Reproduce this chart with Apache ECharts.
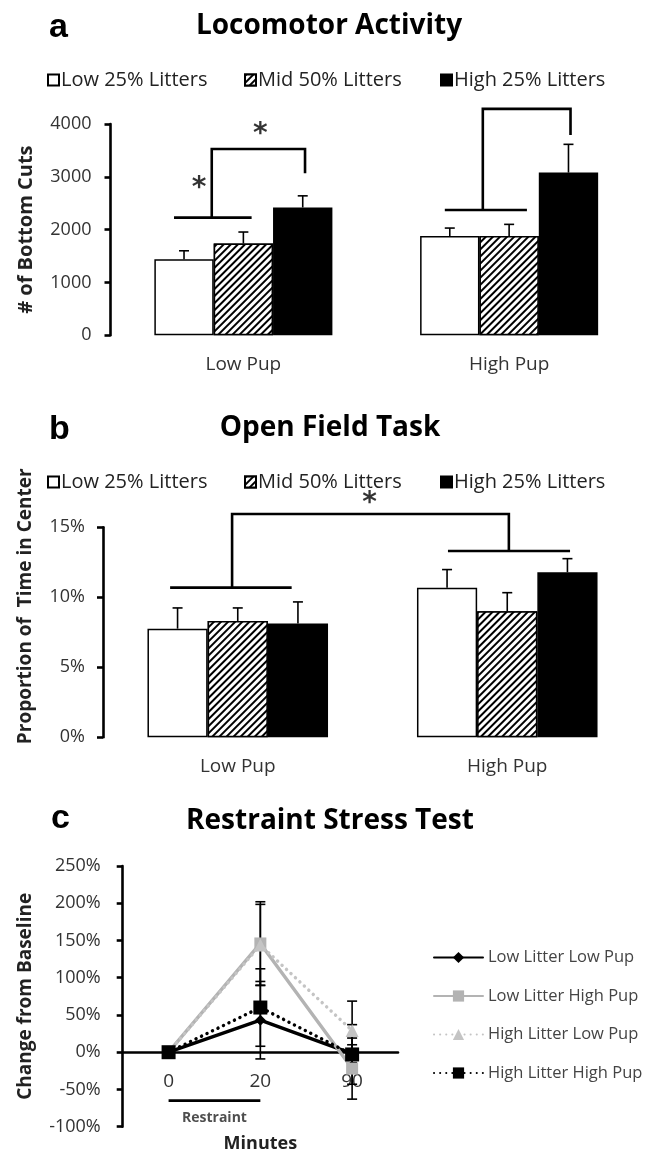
<!DOCTYPE html>
<html><head><meta charset="utf-8">
<script src="https://cdn.jsdelivr.net/npm/echarts@6/dist/echarts.min.js"></script>
<style>html,body{margin:0;padding:0;background:#fff}#c{width:652px;height:1154px}</style>
</head><body><div id="c"></div>
<script>
// ---------- DATA ----------
var groupNames = ['Low 25% Litters', 'Mid 50% Litters', 'High 25% Litters'];
var pupCats = ['Low Pup', 'High Pup'];

// Panel a: Locomotor Activity (# of bottom cuts)
var locoLow = [1440, 1740, 2420];
var locoHigh = [1880, 1880, 3080];
var locoErrTopLow = [1600, 1955, 2640];
var locoErrTopHigh = [2030, 2100, 3615];

// Panel b: Open Field Task (% time in center)
var ofLow = [7.76, 8.31, 8.12];
var ofHigh = [10.69, 9.0, 11.79];
var ofErrTopLow = [9.24, 9.24, 9.67];
var ofErrTopHigh = [11.98, 10.33, 12.76];

// Panel c: Restraint Stress Test (% change from baseline)
var minutes = ['0', '20', '90'];
var lineNames = ['Low Litter Low Pup', 'Low Litter High Pup', 'High Litter Low Pup', 'High Litter High Pup'];
var llLowPup = [0, 43, -2];
var llHighPup = [0, 146, -22];
var hlLowPup = [0, 144, 29];
var hlHighPup = [0, 60, -3];
var llLowPupErr = [0, 52, 12];
var llHighPupErr = [0, 56, 41];
var hlLowPupErr = [0, 54.5, 39.6];
var hlHighPupErr = [0, 52, 40];

// significance brackets (annotation axis: group centres at 0 and 1)
var bracketA1 = [[-0.261, 2227], [0.031, 2227]];
var bracketA2 = [[-0.119, 2227], [-0.119, 3528], [0.232, 3528], [0.232, 3068]];
var bracketA3 = [[0.758, 2373], [1.067, 2373]];
var bracketA4 = [[0.901, 2373], [0.901, 4286], [1.231, 4286], [1.231, 3793]];
var starsA = [[0.064, 3905], [-0.167, 2890]];
var bracketB1 = [[-0.251, 10.69], [0.200, 10.69]];
var bracketB2 = [[-0.021, 10.69], [-0.021, 15.95], [1.006, 15.95], [1.006, 13.31]];
var bracketB3 = [[0.780, 13.31], [1.233, 13.31]];
var starsB = [[0.489, 17.1]];
var restraintLine = [[0, -65], [1, -65]];
var restraintLabel = [[0.5, -89]];

// ---------- CHART ----------
var FONT = 'Open Sans';
var GAP = 0.33;
var chart = echarts.init(document.getElementById('c'), null, {renderer: 'canvas'});

var hatch = {symbol: 'rect', color: '#000', backgroundColor: '#fff', dashArrayX: [1, 0], dashArrayY: [2, 2.2], rotation: -Math.PI / 4, symbolSize: 1};
var barStyles = [
  {color: '#fff', borderColor: '#000', borderWidth: 1.5},
  {color: '#fff', borderColor: '#000', borderWidth: 1.5, decal: hatch},
  {color: '#000', borderColor: '#000', borderWidth: 1.5}
];

function errBarRender(params, api) {
  var idx = api.value(3);
  var c = api.coord([api.value(0), api.value(1)]);
  var t = api.coord([api.value(0), api.value(2)]);
  var band = api.size([1, 0])[0];
  var bw = band * (1 - GAP) / 3;
  var x = c[0] + (idx - 1) * bw;
  var st = {stroke: '#000', lineWidth: 1.6};
  return {type: 'group', children: [
    {type: 'line', shape: {x1: x, y1: c[1], x2: x, y2: t[1]}, style: st},
    {type: 'line', shape: {x1: x - 5, y1: t[1], x2: x + 5, y2: t[1]}, style: st}
  ]};
}
function errData(lowVals, lowTops, highVals, highTops) {
  var d = [];
  for (var i = 0; i < 3; i++) {
    d.push([0, lowVals[i], lowTops[i], i]);
    d.push([1, highVals[i], highTops[i], i]);
  }
  return d;
}
function lineErrRender(params, api) {
  var v = api.value(1), e = api.value(2);
  if (!e) return null;
  var top = api.coord([api.value(0), v + e]);
  var bot = api.coord([api.value(0), v - e]);
  var st = {stroke: '#000', lineWidth: 1.6};
  var x = top[0];
  return {type: 'group', children: [
    {type: 'line', shape: {x1: x, y1: top[1], x2: x, y2: bot[1]}, style: st},
    {type: 'line', shape: {x1: x - 5, y1: top[1], x2: x + 5, y2: top[1]}, style: st},
    {type: 'line', shape: {x1: x - 5, y1: bot[1], x2: x + 5, y2: bot[1]}, style: st}
  ]};
}
function lineErrData(vals, errs) {
  return vals.map(function (v, i) { return [i, v, errs[i]]; });
}
function bracket(coords, xi, yi) {
  return {type: 'lines', coordinateSystem: 'cartesian2d', xAxisIndex: xi, yAxisIndex: yi, polyline: true, clip: false,
    silent: true, z: 5, lineStyle: {color: '#000', width: 2.6, opacity: 1}, data: [{coords: coords}]};
}
function stars(pts, xi, yi) {
  return {type: 'scatter', xAxisIndex: xi, yAxisIndex: yi, symbolSize: 0, clip: false, silent: true, z: 6, data: pts,
    label: {show: true, position: 'inside', offset: [0, 6], formatter: '*', fontFamily: 'DejaVu Sans', fontWeight: 'bold', fontSize: 28, color: '#000'}};
}

var tickLabel = {color: '#333', fontFamily: FONT, fontSize: 18};
var axisLineBold = {show: true, onZero: false, lineStyle: {color: '#000', width: 2.6}};

var series = [];
for (var i = 0; i < 3; i++) {
  series.push({type: 'bar', name: groupNames[i], xAxisIndex: 0, yAxisIndex: 0, barGap: '0%', barCategoryGap: '33%',
    itemStyle: barStyles[i], data: [locoLow[i], locoHigh[i]]});
}
for (var i = 0; i < 3; i++) {
  series.push({type: 'bar', name: groupNames[i], xAxisIndex: 2, yAxisIndex: 1, barGap: '0%', barCategoryGap: '33%',
    itemStyle: barStyles[i], data: [ofLow[i], ofHigh[i]]});
}
series.push({type: 'custom', xAxisIndex: 0, yAxisIndex: 0, z: 4, silent: true, renderItem: errBarRender,
  data: errData(locoLow, locoErrTopLow, locoHigh, locoErrTopHigh)});
series.push({type: 'custom', xAxisIndex: 2, yAxisIndex: 1, z: 4, silent: true, renderItem: errBarRender,
  data: errData(ofLow, ofErrTopLow, ofHigh, ofErrTopHigh)});
series.push(bracket(bracketA1, 1, 0), bracket(bracketA2, 1, 0), bracket(bracketA3, 1, 0), bracket(bracketA4, 1, 0));
series.push(stars(starsA, 1, 0));
series.push(bracket(bracketB1, 3, 1), bracket(bracketB2, 3, 1), bracket(bracketB3, 3, 1));
series.push(stars(starsB, 3, 1));

// panel c
var lineDefs = [
  {data: llLowPup, err: llLowPupErr, color: '#000', type: 'solid', symbol: 'diamond', size: 11},
  {data: llHighPup, err: llHighPupErr, color: '#b3b3b3', type: 'solid', symbol: 'rect', size: 12},
  {data: hlLowPup, err: hlLowPupErr, color: '#c4c4c4', type: [0.1, 6], symbol: 'triangle', size: 13},
  {data: hlHighPup, err: hlHighPupErr, color: '#000', type: [0.1, 6], symbol: 'rect', size: 14}
];
lineDefs.forEach(function (d, k) {
  series.push({type: 'custom', xAxisIndex: 4, yAxisIndex: 2, z: 3, silent: true, renderItem: lineErrRender,
    data: lineErrData(d.data, d.err)});
});
lineDefs.forEach(function (d, k) {
  series.push({type: 'line', name: lineNames[k], xAxisIndex: 4, yAxisIndex: 2, z: 4 + k, data: d.data,
    symbol: d.symbol, symbolSize: d.size, showSymbol: true,
    itemStyle: {color: d.color}, lineStyle: {color: d.color, width: 3.4, type: d.type, cap: 'round'}});
});
series.push(bracket(restraintLine, 5, 2));
series.push({type: 'scatter', xAxisIndex: 5, yAxisIndex: 2, symbolSize: 0, silent: true, clip: false, data: restraintLabel,
  label: {show: true, position: 'inside', formatter: 'Restraint', fontFamily: FONT, fontWeight: 'bold', fontSize: 14, color: '#222'}});

function legendAt(name, left, top) {
  return {data: [name], left: left, top: top, padding: 0, icon: 'rect', itemWidth: 11, itemHeight: 11, itemGap: 0, selectedMode: false,
    textStyle: {fontFamily: FONT, fontSize: 20, color: '#222', padding: [0, 0, 0, -3], lineHeight: 22}};
}

var titleLetter = {fontFamily: 'Liberation Sans', fontWeight: 'bold', fontSize: 34, color: '#000'};
var titleMain = {fontFamily: FONT, fontWeight: 'bold', fontSize: 28, color: '#000'};
var option = {
  backgroundColor: '#fff',
  animation: false,
  title: [
    {text: 'a', left: 44, top: 6, textStyle: titleLetter},
    {text: 'Locomotor Activity', left: 324, top: 7, textAlign: 'center', textStyle: titleMain},
    {text: 'b', left: 44, top: 408, textStyle: titleLetter},
    {text: 'Open Field Task', left: 325, top: 409, textAlign: 'center', textStyle: titleMain},
    {text: 'c', left: 46, top: 797, textStyle: titleLetter},
    {text: 'Restraint Stress Test', left: 325, top: 802, textAlign: 'center', textStyle: titleMain}
  ],
  legend: [
    legendAt(groupNames[0], 47, 69), legendAt(groupNames[1], 244, 69), legendAt(groupNames[2], 440, 69),
    legendAt(groupNames[0], 47, 471), legendAt(groupNames[1], 244, 471), legendAt(groupNames[2], 440, 471),
    {data: lineNames, orient: 'vertical', left: 433, top: 949, padding: 0, itemWidth: 49, itemHeight: 14, itemGap: 21.5,
      selectedMode: false, textStyle: {fontFamily: FONT, fontSize: 16.5, color: '#444', lineHeight: 14}}
  ],
  grid: [
    {left: 110.5, right: 10, top: 124, height: 211.3, outerBoundsMode: 'none', containLabel: false},
    {left: 103, right: 10, top: 527.3, height: 210, outerBoundsMode: 'none', containLabel: false},
    {left: 122.7, right: 254, top: 866, height: 260.7, outerBoundsMode: 'none', containLabel: false}
  ],
  xAxis: [
    {type: 'category', gridIndex: 0, data: pupCats, axisLine: {show: false}, axisTick: {show: false},
      axisLabel: {color: '#333', fontFamily: FONT, fontSize: 19, margin: 20}},
    {type: 'value', gridIndex: 0, min: -0.5, max: 1.5, show: false},
    {type: 'category', gridIndex: 1, data: pupCats, axisLine: {show: false}, axisTick: {show: false},
      axisLabel: {color: '#333', fontFamily: FONT, fontSize: 19, margin: 20}},
    {type: 'value', gridIndex: 1, min: -0.5, max: 1.5, show: false},
    {type: 'category', gridIndex: 2, data: minutes, axisLine: {show: true, onZero: true, lineStyle: {color: '#000', width: 2.6}},
      axisTick: {show: false},
      axisLabel: {color: '#333', fontFamily: FONT, fontSize: 19, margin: -55},
      name: 'Minutes', nameLocation: 'middle', nameGap: 8, nameMoveOverlap: false,
      nameTextStyle: {fontFamily: FONT, fontWeight: 'bold', fontSize: 18, color: '#222'}},
    {type: 'value', gridIndex: 2, min: -0.5, max: 2.5, show: false}
  ],
  yAxis: [
    {type: 'value', gridIndex: 0, min: 0, max: 4000, interval: 1000, splitLine: {show: false},
      axisLine: axisLineBold, axisTick: {show: true, length: 6, lineStyle: {color: '#000', width: 2.6}},
      axisLabel: Object.assign({margin: 19, formatter: function (v) { return String(v); }}, tickLabel),
      name: '# of Bottom Cuts', nameLocation: 'middle', nameGap: 74,
      nameTextStyle: {fontFamily: FONT, fontWeight: 'bold', fontSize: 20, color: '#222'}},
    {type: 'value', gridIndex: 1, min: 0, max: 15, interval: 5, splitLine: {show: false},
      axisLine: axisLineBold, axisTick: {show: true, length: 6, lineStyle: {color: '#000', width: 2.6}},
      axisLabel: Object.assign({margin: 18, formatter: '{value}%'}, tickLabel),
      name: 'Proportion of  Time in Center', nameLocation: 'middle', nameGap: 68,
      nameTextStyle: {fontFamily: FONT, fontWeight: 'bold', fontSize: 19, color: '#222', padding: [0, 0, 0, 52]}},
    {type: 'value', gridIndex: 2, min: -100, max: 250, interval: 50, splitLine: {show: false},
      axisLine: axisLineBold, axisTick: {show: true, length: 6, lineStyle: {color: '#000', width: 2.6}},
      axisLabel: Object.assign({margin: 22, formatter: '{value}%'}, tickLabel),
      name: 'Change from Baseline', nameLocation: 'middle', nameGap: 88,
      nameTextStyle: {fontFamily: FONT, fontWeight: 'bold', fontSize: 19, color: '#222'}}
  ],
  series: series
};
chart.setOption(option);
</script></body></html>
